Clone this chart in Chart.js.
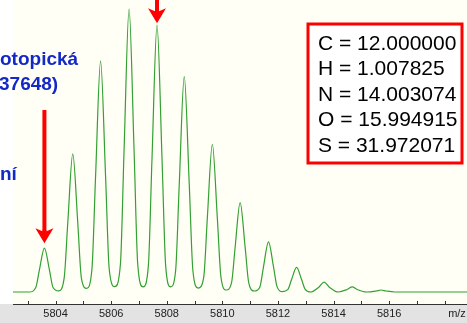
<!DOCTYPE html>
<html lang="cs">
<head>
  <meta charset="UTF-8">
  <title>Izotopový profil</title>
  <script src="https://cdn.jsdelivr.net/npm/chart.js"></script>
  <style>
    body { margin: 0; background: #ffffff; }
    .box { width: 467px; height: 323px; position: relative; }
  </style>
</head>
<body>
  <div class="box">
    <canvas id="spektrum"></canvas>
  </div>

  <script>
    // profil spektra (m/z, relativní intenzita)
    const mzBody = [
      5802.47, 5803.05,
      5803.29, 5803.42, 5803.60, 5803.78, 5803.91, 5804.11,
      5804.31, 5804.44, 5804.62, 5804.80, 5804.93, 5805.12,
      5805.31, 5805.44, 5805.62, 5805.80, 5805.93, 5806.13,
      5806.335, 5806.465, 5806.645, 5806.825, 5806.955, 5807.15,
      5807.34, 5807.47, 5807.65, 5807.83, 5807.96, 5808.14,
      5808.32, 5808.45, 5808.63, 5808.81, 5808.94, 5809.13,
      5809.33, 5809.46, 5809.64, 5809.82, 5809.95, 5810.14,
      5810.33, 5810.46, 5810.64, 5810.82, 5810.95, 5811.15,
      5811.35, 5811.48, 5811.66, 5811.84, 5811.97, 5812.16,
      5812.36, 5812.49, 5812.67, 5812.85, 5812.98, 5813.17,
      5813.48, 5813.66, 5813.84, 5814.17,
      5814.49, 5814.67, 5814.85, 5815.19,
      5815.53, 5815.71, 5815.89, 5816.2,
      5818.8
    ];
    const intenzita = [
      0, 0,
      1.6, 7.8, 15.5, 7.8, 1.6, 0.4,
      4.9, 24.4, 48.8, 24.4, 4.9, 1.3,
      8.2, 40.8, 81.6, 40.8, 8.2, 1.9,
      10, 50, 100, 50, 10, 1.8,
      9.4, 47.2, 94.3, 47.2, 9.4, 1.8,
      7.6, 38, 76.1, 38, 7.6, 1.4,
      5.2, 26.1, 52.2, 26.1, 5.2, 0.7,
      3.2, 15.8, 31.6, 15.8, 3.2, 0.35,
      1.8, 8.9, 17.7, 8.9, 1.8, 0.1,
      0.9, 4.4, 8.7, 4.4, 0.9, 0,
      1.8, 3.5, 1.8, 0,
      0.9, 1.8, 0.9, 0,
      0.35, 0.7, 0.35, 0,
      0
    ];

    // značky osy x: každá jednotka, popisek každé dvě
    const znacky = [5803, 5804, 5805, 5806, 5807, 5808, 5809, 5810, 5811, 5812, 5813, 5814, 5815, 5816, 5817, 5818];
    const popiskyOsy = [5804, 5806, 5808, 5810, 5812, 5814, 5816];

    // vrcholy, na které ukazují šipky
    const sipkyMz = [5803.60, 5807.65];
    const sipkyInt = [15.5, 94.3];

    const prvky = [
      'C = 12.000000',
      'H = 1.007825',
      'N = 14.003074',
      'O = 15.994915',
      'S = 31.972071'
    ];
    const popisky = ['otopická', '37648)', 'ní'];

    const body = mzBody.map((x, i) => ({ x: x, y: intenzita[i] }));

    function sipka(ctx, x, yStart, yTip) {
      ctx.fillStyle = '#ff0000';
      ctx.fillRect(x - 2, yStart, 4, yTip - yStart - 10);
      ctx.beginPath();
      ctx.moveTo(x, yTip);
      ctx.lineTo(x - 9, yTip - 15);
      ctx.lineTo(x - 2, yTip - 12);
      ctx.lineTo(x + 2, yTip - 12);
      ctx.lineTo(x + 9, yTip - 15);
      ctx.closePath();
      ctx.fill();
      ctx.fillRect(x - 2, yTip - 13, 4, 9);
    }

    const vzhled = {
      id: 'vzhled',
      beforeDraw(chart) {
        const { ctx, chartArea } = chart;
        ctx.save();
        ctx.fillStyle = '#ffffff';
        ctx.fillRect(0, 0, chart.width, chart.height);
        ctx.fillStyle = '#fffff5';
        ctx.fillRect(chartArea.left, 0, chartArea.right - chartArea.left, chartArea.bottom);
        ctx.fillStyle = '#e3e3e3';
        ctx.fillRect(0, chartArea.bottom, chart.width, chart.height - chartArea.bottom);
        ctx.restore();
      },
      afterDraw(chart) {
        const { ctx, chartArea } = chart;
        const xs = chart.scales.x;
        const ys = chart.scales.y;
        ctx.save();

        // osa a značky
        ctx.strokeStyle = '#333333';
        ctx.lineWidth = 1;
        ctx.beginPath();
        ctx.moveTo(chartArea.left, chartArea.bottom + 0.5);
        ctx.lineTo(chartArea.right, chartArea.bottom + 0.5);
        znacky.forEach(v => {
          const px = Math.round(xs.getPixelForValue(v)) + 0.5;
          ctx.moveTo(px, chartArea.bottom);
          ctx.lineTo(px, chartArea.bottom - 3);
        });
        ctx.stroke();

        ctx.fillStyle = '#222222';
        ctx.font = '11px "Liberation Sans", Arial, sans-serif';
        ctx.textAlign = 'center';
        ctx.textBaseline = 'middle';
        popiskyOsy.forEach(v => ctx.fillText(String(v), xs.getPixelForValue(v), chartArea.bottom + 10));
        ctx.fillText('m/z', 457, chartArea.bottom + 10);

        // šipky
        sipka(ctx, xs.getPixelForValue(sipkyMz[0]), 110, ys.getPixelForValue(sipkyInt[0]) - 5);
        sipka(ctx, xs.getPixelForValue(sipkyMz[1]), -2, ys.getPixelForValue(sipkyInt[1]) - 2);

        // rámeček s hmotnostmi
        ctx.fillStyle = '#ffffff';
        ctx.fillRect(308, 24, 154, 139);
        ctx.strokeStyle = '#ff0000';
        ctx.lineWidth = 3;
        ctx.strokeRect(308, 24, 154, 139);
        ctx.fillStyle = '#000000';
        ctx.font = '21px "Liberation Sans", Arial, sans-serif';
        ctx.textAlign = 'left';
        prvky.forEach((t, i) => ctx.fillText(t, 318, 44 + i * 25.5));

        // modré popisky vlevo
        ctx.fillStyle = '#1428c8';
        ctx.font = 'bold 19px "Liberation Sans", Arial, sans-serif';
        ctx.fillText(popisky[0], 0, 60);
        ctx.fillText(popisky[1], -1, 85);
        ctx.fillText(popisky[2], 0, 175);
        ctx.restore();
      }
    };

    new Chart(document.getElementById('spektrum'), {
      type: 'line',
      data: {
        datasets: [{
          data: body,
          borderColor: '#33a033',
          borderWidth: 1.2,
          pointRadius: 0,
          fill: false,
          cubicInterpolationMode: 'monotone'
        }]
      },
      options: {
        responsive: true,
        maintainAspectRatio: false,
        animation: false,
        devicePixelRatio: 1,
        layout: { padding: { left: 13, right: 0, top: 0, bottom: 19 } },
        plugins: { legend: { display: false }, tooltip: { enabled: false } },
        scales: {
          x: {
            type: 'linear',
            display: false,
            min: 5802.47,
            max: 5818.8
          },
          y: {
            display: false,
            min: -4.24,
            max: 103.18
          }
        }
      },
      plugins: [vzhled]
    });
  </script>
</body>
</html>
